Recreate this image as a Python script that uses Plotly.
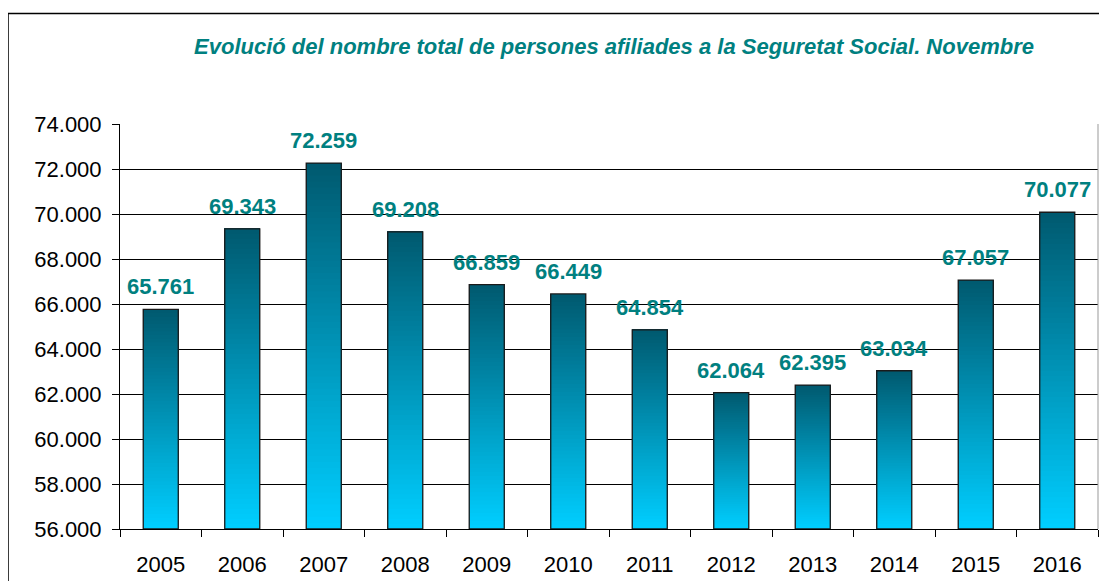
import plotly.graph_objects as go

years = ['2005', '2006', '2007', '2008', '2009', '2010', '2011', '2012', '2013', '2014', '2015', '2016']
afiliats = [65761, 69343, 72259, 69208, 66859, 66449, 64854, 62064, 62395, 63034, 67057, 70077]
labels = ['65.761', '69.343', '72.259', '69.208', '66.859', '66.449', '64.854', '62.064', '62.395', '63.034', '67.057', '70.077']
y_min = 56000
y_max = 74000

teal = '#008080'
top_rgb = (0, 90, 112)
bottom_rgb = (0, 206, 255)

fig = go.Figure()

# gradient: stacked overlays, each one starting a bit higher and a bit darker
n_steps = 60
for k in range(n_steps):
    t = k / (n_steps - 1)
    col = tuple(round(b + (a - b) * t) for a, b in zip(top_rgb, bottom_rgb))
    steps = [(v - y_min) / n_steps for v in afiliats]
    bases = [y_min + k * h for h in steps]
    heights = [v - b for v, b in zip(afiliats, bases)]
    fig.add_trace(go.Bar(
        x=years, y=heights, base=bases,
        marker=dict(color='rgb(%d,%d,%d)' % col, line=dict(width=0)),
        hoverinfo='skip', showlegend=False
    ))

# outline of every bar
fig.add_trace(go.Bar(
    x=years, y=[v - y_min for v in afiliats], base=[y_min] * len(afiliats),
    marker=dict(color='rgba(0,0,0,0)', line=dict(color='#1a1a1a', width=1.3)),
    hovertemplate='%{x}: %{customdata}<extra></extra>', customdata=labels,
    showlegend=False
))

# value labels (x given as category index so '2005' is not read as a number)
for i, (v, lab) in enumerate(zip(afiliats, labels)):
    fig.add_annotation(
        x=i, y=v, text='<b>' + lab + '</b>', showarrow=False,
        yanchor='bottom', yshift=8,
        font=dict(family='Liberation Sans, Arial', size=22, color=teal)
    )

# outer frame of the chart
fig.add_shape(type='rect', xref='paper', yref='paper',
              x0=-0.1145, x1=1.2, y0=-0.3, y1=1.2727,
              line=dict(color='black', width=1.5), layer='below')

fig.update_layout(
    width=1107, height=581,
    margin=dict(l=112, r=17, t=116, b=58),
    barmode='overlay', bargap=0.57,
    separators=',.',
    plot_bgcolor='white', paper_bgcolor='white',
    font=dict(family='Liberation Sans, Arial', size=22, color='black'),
    title=dict(
        text='<b><i>Evolució del nombre total de persones afiliades a la Seguretat Social. Novembre</i></b>',
        x=606 / 1107, xanchor='center', y=1 - 38 / 581, yanchor='middle',
        font=dict(family='Liberation Sans, Arial', size=22, color=teal)
    ),
    xaxis=dict(
        type='category', categoryorder='array', categoryarray=years,
        range=[-0.5, len(years) - 0.5],
        showgrid=False, showline=True, linecolor='black', linewidth=1,
        ticks='outside', tickson='boundaries', ticklen=7, tickcolor='black',
        tickangle=0, ticklabelstandoff=16
    ),
    yaxis=dict(
        range=[y_min, y_max], dtick=2000, tickformat=',.0f',
        showgrid=True, gridcolor='black', gridwidth=1,
        showline=True, linecolor='black', linewidth=1,
        ticks='outside', ticklen=7, tickcolor='black', zeroline=False,
        ticklabelstandoff=6
    )
)

# thin grey border on the right of the plot area
fig.add_shape(type='line', xref='paper', yref='paper', x0=1, x1=1, y0=0, y1=1,
              line=dict(color='#999999', width=1))

fig.write_html('out.html')
